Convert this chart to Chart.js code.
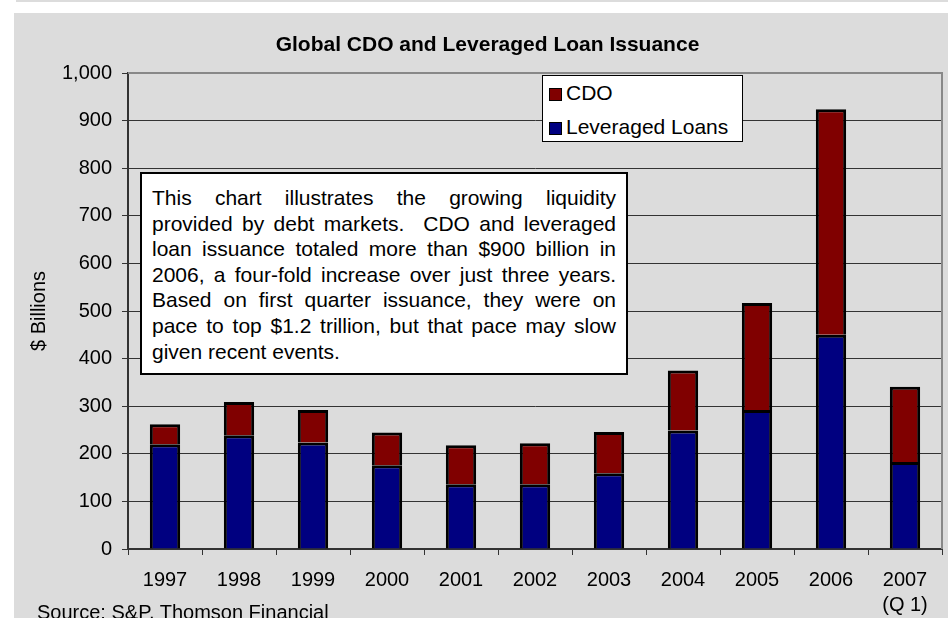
<!DOCTYPE html>
<html>
<head>
<meta charset="utf-8">
<script src="https://cdn.jsdelivr.net/npm/chart.js@4"></script>
<style>
  html, body { margin: 0; padding: 0; }
  body {
    width: 948px; height: 618px; overflow: hidden; position: relative;
    background: #fff; font-family: "Liberation Sans", Arial, sans-serif; color: #000;
  }
  .band { position: absolute; left: 16px; top: 0; width: 932px; height: 2px; background: #dcdcdc; }
  .panel { position: absolute; left: 14px; top: 13px; right: 0; bottom: 0; background: #dcdcdc; }
  #chart { position: absolute; left: 0; top: 0; }
  .title {
    position: absolute; left: 487.5px; top: 33px; transform: translateX(-50%);
    font-weight: bold; font-size: 21px; line-height: 21px; white-space: nowrap;
  }
  .note {
    position: absolute; left: 140px; top: 172px; width: 464px; height: 177px;
    padding: 11px 10px 11px 10px; background: #fff; border: 2px solid #000;
    font-size: 21px; line-height: 25.6px;
  }
  .note span { display: block; text-align: justify; text-align-last: justify; white-space: nowrap; }
  .note span.last { text-align: left; text-align-last: left; }
  .legend {
    position: absolute; left: 542px; top: 75px; width: 199px; height: 65px;
    background: #fff; border: 1px solid #000;
  }
  .legend .item { position: absolute; left: 6px; font-size: 21px; line-height: 24px; white-space: nowrap; }
  .legend .swatch {
    display: inline-block; width: 11px; height: 11px; border: 1.5px solid #000;
    margin-right: 4px; vertical-align: -1px;
  }
  .source { position: absolute; left: 37px; top: 602px; font-size: 20px; line-height: 20px; white-space: nowrap; }
</style>
</head>
<body>
<div class="band"></div>
<div class="panel"></div>
<canvas id="chart" width="948" height="618"></canvas>
<div class="title">Global CDO and Leveraged Loan Issuance</div>
<div class="legend" id="legend"></div>
<div class="note">
  <span>This chart illustrates the growing liquidity</span>
  <span>provided by debt markets.&nbsp; CDO and leveraged</span>
  <span>loan issuance totaled more than $900 billion in</span>
  <span>2006, a four-fold increase over just three years.</span>
  <span>Based on first quarter issuance, they were on</span>
  <span>pace to top $1.2 trillion, but that pace may slow</span>
  <span class="last">given recent events.</span>
</div>
<div class="source">Source: S&amp;P, Thomson Financial</div>

<script>
// Data ($ billions)
const years = ['1997', '1998', '1999', '2000', '2001', '2002', '2003', '2004', '2005', '2006', ['2007', '(Q 1)']];
const leveragedLoans = [220, 239, 224, 176, 136, 136, 159, 249, 292, 450, 183];
const cdo = [42, 70, 68, 69, 82, 86, 87, 126, 225, 474, 158];
const yTicks = [0, 100, 200, 300, 400, 500, 600, 700, 800, 900, 1000];

const seriesNames = ['Leveraged Loans', 'CDO'];
const seriesColors = ['#000080', '#800000'];

// Legend box lists CDO on top, like the original
function buildLegend() {
  const box = document.getElementById('legend');
  const order = [1, 0];
  order.forEach((idx, row) => {
    const item = document.createElement('div');
    item.className = 'item';
    item.style.top = (row === 0 ? 5 : 39) + 'px';
    const sw = document.createElement('span');
    sw.className = 'swatch';
    sw.style.background = seriesColors[idx];
    item.appendChild(sw);
    item.appendChild(document.createTextNode(seriesNames[idx]));
    box.appendChild(item);
  });
}

// Gray frame on the top and right of the plot area
const plotFrame = {
  id: 'plotFrame',
  afterDraw(chart) {
    const {ctx, chartArea} = chart;
    ctx.save();
    ctx.strokeStyle = '#888888';
    ctx.lineWidth = 2;
    ctx.beginPath();
    ctx.moveTo(chartArea.left, chartArea.top);
    ctx.lineTo(chartArea.right, chartArea.top);
    ctx.lineTo(chartArea.right, chartArea.bottom);
    ctx.stroke();
    ctx.restore();
  }
};

function createChart() {
  const ctx = document.getElementById('chart');
  Chart.defaults.font.family = '"Liberation Sans", Arial, sans-serif';
  Chart.defaults.color = '#000';

  new Chart(ctx, {
    type: 'bar',
    data: {
      labels: years,
      datasets: [{
        label: seriesNames[0],
        data: leveragedLoans,
        backgroundColor: seriesColors[0],
        borderColor: '#000',
        borderWidth: 3
      }, {
        label: seriesNames[1],
        data: cdo,
        backgroundColor: seriesColors[1],
        borderColor: '#000',
        borderWidth: 3
      }]
    },
    options: {
      responsive: false,
      animation: false,
      categoryPercentage: 1,
      barPercentage: 0.41,
      layout: {
        padding: { left: 24, right: 6, top: 73, bottom: 0 }
      },
      plugins: {
        legend: { display: false },
        tooltip: { enabled: false }
      },
      scales: {
        x: {
          stacked: true,
          offset: true,
          grid: {
            offset: true,
            drawOnChartArea: false,
            tickLength: 6,
            tickColor: '#333',
            tickWidth: 1
          },
          border: { color: '#333', width: 2 },
          ticks: {
            font: { size: 20, lineHeight: 1.25 },
            padding: 13,
            maxRotation: 0,
            autoSkip: false
          },
          afterFit(scale) { scale.height = 69; }
        },
        y: {
          stacked: true,
          min: 0,
          max: 1000,
          afterBuildTicks(scale) {
            scale.ticks = yTicks.map(v => ({ value: v }));
          },
          grid: {
            color: c => (c.tick && c.tick.value === 1000 ? 'rgba(0,0,0,0)' : '#333'),
            lineWidth: 1,
            tickLength: 6,
            tickColor: '#333'
          },
          border: { color: '#333', width: 2 },
          ticks: {
            font: { size: 20 },
            padding: 10,
            callback: v => v.toLocaleString('en-US')
          },
          title: {
            display: true,
            text: '$ Billions',
            font: { size: 20, lineHeight: 1.2 },
            padding: { top: 3, bottom: 0 }
          },
          afterFit(scale) { scale.width = 104; }
        }
      }
    },
    plugins: [plotFrame]
  });
}

document.addEventListener('DOMContentLoaded', () => {
  buildLegend();
  createChart();
});
</script>
</body>
</html>
